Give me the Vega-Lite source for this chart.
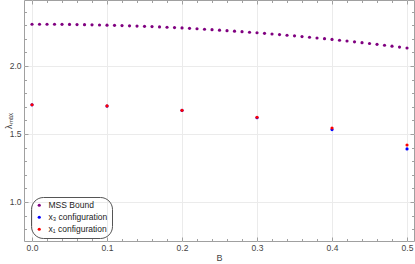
{
 "$schema": "https://vega.github.io/schema/vega-lite/v6.json",
 "width": 390,
 "height": 241,
 "autosize": {"type": "none"},
 "padding": {"left": 24, "top": 0, "right": 1, "bottom": 23},
 "config": {
  "view": {"stroke": "#a0a0a0", "strokeWidth": 1},
  "font": "Liberation Sans",
  "axis": {"domain": false, "tickColor": "#a0a0a0", "labelColor": "#444", "labelFontSize": 8.5, "titleFontSize": 9, "titleFontWeight": "normal", "titleColor": "#444", "gridColor": "#ebebeb"}
 },
 "data": {"values": [
  {"B": 0.00, "v": 2.3070, "s": "MSS Bound"},
  {"B": 0.01, "v": 2.3069, "s": "MSS Bound"},
  {"B": 0.02, "v": 2.3067, "s": "MSS Bound"},
  {"B": 0.03, "v": 2.3064, "s": "MSS Bound"},
  {"B": 0.04, "v": 2.3059, "s": "MSS Bound"},
  {"B": 0.05, "v": 2.3053, "s": "MSS Bound"},
  {"B": 0.06, "v": 2.3045, "s": "MSS Bound"},
  {"B": 0.07, "v": 2.3036, "s": "MSS Bound"},
  {"B": 0.08, "v": 2.3025, "s": "MSS Bound"},
  {"B": 0.09, "v": 2.3013, "s": "MSS Bound"},
  {"B": 0.10, "v": 2.3000, "s": "MSS Bound"},
  {"B": 0.11, "v": 2.2986, "s": "MSS Bound"},
  {"B": 0.12, "v": 2.2970, "s": "MSS Bound"},
  {"B": 0.13, "v": 2.2953, "s": "MSS Bound"},
  {"B": 0.14, "v": 2.2935, "s": "MSS Bound"},
  {"B": 0.15, "v": 2.2915, "s": "MSS Bound"},
  {"B": 0.16, "v": 2.2894, "s": "MSS Bound"},
  {"B": 0.17, "v": 2.2872, "s": "MSS Bound"},
  {"B": 0.18, "v": 2.2848, "s": "MSS Bound"},
  {"B": 0.19, "v": 2.2823, "s": "MSS Bound"},
  {"B": 0.20, "v": 2.2800, "s": "MSS Bound"},
  {"B": 0.21, "v": 2.2765, "s": "MSS Bound"},
  {"B": 0.22, "v": 2.2733, "s": "MSS Bound"},
  {"B": 0.23, "v": 2.2700, "s": "MSS Bound"},
  {"B": 0.24, "v": 2.2667, "s": "MSS Bound"},
  {"B": 0.25, "v": 2.2633, "s": "MSS Bound"},
  {"B": 0.26, "v": 2.2597, "s": "MSS Bound"},
  {"B": 0.27, "v": 2.2560, "s": "MSS Bound"},
  {"B": 0.28, "v": 2.2521, "s": "MSS Bound"},
  {"B": 0.29, "v": 2.2481, "s": "MSS Bound"},
  {"B": 0.30, "v": 2.2440, "s": "MSS Bound"},
  {"B": 0.31, "v": 2.2397, "s": "MSS Bound"},
  {"B": 0.32, "v": 2.2353, "s": "MSS Bound"},
  {"B": 0.33, "v": 2.2308, "s": "MSS Bound"},
  {"B": 0.34, "v": 2.2261, "s": "MSS Bound"},
  {"B": 0.35, "v": 2.2213, "s": "MSS Bound"},
  {"B": 0.36, "v": 2.2163, "s": "MSS Bound"},
  {"B": 0.37, "v": 2.2112, "s": "MSS Bound"},
  {"B": 0.38, "v": 2.2059, "s": "MSS Bound"},
  {"B": 0.39, "v": 2.2005, "s": "MSS Bound"},
  {"B": 0.40, "v": 2.1950, "s": "MSS Bound"},
  {"B": 0.41, "v": 2.1893, "s": "MSS Bound"},
  {"B": 0.42, "v": 2.1835, "s": "MSS Bound"},
  {"B": 0.43, "v": 2.1776, "s": "MSS Bound"},
  {"B": 0.44, "v": 2.1715, "s": "MSS Bound"},
  {"B": 0.45, "v": 2.1653, "s": "MSS Bound"},
  {"B": 0.46, "v": 2.1589, "s": "MSS Bound"},
  {"B": 0.47, "v": 2.1524, "s": "MSS Bound"},
  {"B": 0.48, "v": 2.1457, "s": "MSS Bound"},
  {"B": 0.49, "v": 2.1389, "s": "MSS Bound"},
  {"B": 0.50, "v": 2.1320, "s": "MSS Bound"},
  {"B": 0.0, "v": 1.714, "s": "x₃ configuration"},
  {"B": 0.1, "v": 1.705, "s": "x₃ configuration"},
  {"B": 0.2, "v": 1.673, "s": "x₃ configuration"},
  {"B": 0.3, "v": 1.620, "s": "x₃ configuration"},
  {"B": 0.4, "v": 1.532, "s": "x₃ configuration"},
  {"B": 0.5, "v": 1.390, "s": "x₃ configuration"},
  {"B": 0.0, "v": 1.715, "s": "x₁ configuration"},
  {"B": 0.1, "v": 1.706, "s": "x₁ configuration"},
  {"B": 0.2, "v": 1.674, "s": "x₁ configuration"},
  {"B": 0.3, "v": 1.623, "s": "x₁ configuration"},
  {"B": 0.4, "v": 1.544, "s": "x₁ configuration"},
  {"B": 0.5, "v": 1.419, "s": "x₁ configuration"}
 ]},
 "layer": [
  {
   "mark": {"type": "point", "filled": true, "size": 10, "opacity": 1},
   "encoding": {
    "x": {"field": "B", "type": "quantitative", "scale": {"domain": [-0.0107, 0.5093], "nice": false, "zero": false},
     "axis": {"orient": "bottom", "values": [0, 0.1, 0.2, 0.3, 0.4, 0.5], "format": ".1f", "grid": true, "tickSize": -4, "labelPadding": 6, "title": "B", "titlePadding": 2}},
    "y": {"field": "v", "type": "quantitative", "scale": {"domain": [0.713, 2.485], "nice": false, "zero": false},
     "axis": {"orient": "left", "values": [1.0, 1.5, 2.0], "format": ".1f", "grid": true, "tickSize": -4, "labelPadding": 7, "title": "λₘₐₓ", "titlePadding": -4}},
    "color": {"field": "s", "type": "nominal",
     "scale": {"domain": ["MSS Bound", "x₃ configuration", "x₁ configuration"], "range": ["#800080", "#0000ff", "#ff0000"]},
     "legend": {"orient": "none", "legendX": 7, "legendY": 197, "title": null, "strokeColor": "#555", "cornerRadius": 12, "padding": 4, "symbolType": "circle", "symbolSize": 10, "symbolStrokeWidth": 0, "labelFontSize": 8.5, "labelColor": "#222", "rowPadding": 3, "labelOffset": 5}}
   }
  },
  {
   "mark": {"type": "point", "opacity": 0},
   "encoding": {
    "x": {"field": "B", "type": "quantitative", "axis": {"orient": "bottom", "values": [0.02, 0.04, 0.06, 0.08, 0.12, 0.14, 0.16, 0.18, 0.22, 0.24, 0.26, 0.28, 0.32, 0.34, 0.36, 0.38, 0.42, 0.44, 0.46, 0.48], "labels": false, "grid": false, "tickSize": -2.5, "title": null}},
    "y": {"field": "v", "type": "quantitative", "axis": {"orient": "left", "values": [0.8, 0.9, 1.1, 1.2, 1.3, 1.4, 1.6, 1.7, 1.8, 1.9, 2.1, 2.2, 2.3, 2.4], "labels": false, "grid": false, "tickSize": -2.5, "title": null}}
   }
  },
  {
   "mark": {"type": "point", "opacity": 0},
   "encoding": {
    "x": {"field": "B", "type": "quantitative", "axis": {"orient": "top", "values": [0, 0.1, 0.2, 0.3, 0.4, 0.5], "labels": false, "grid": false, "tickSize": -4, "title": null}},
    "y": {"field": "v", "type": "quantitative", "axis": {"orient": "right", "values": [1.0, 1.5, 2.0], "labels": false, "grid": false, "tickSize": -4, "title": null}}
   }
  },
  {
   "mark": {"type": "point", "opacity": 0},
   "encoding": {
    "x": {"field": "B", "type": "quantitative", "axis": {"orient": "top", "values": [0.02, 0.04, 0.06, 0.08, 0.12, 0.14, 0.16, 0.18, 0.22, 0.24, 0.26, 0.28, 0.32, 0.34, 0.36, 0.38, 0.42, 0.44, 0.46, 0.48], "labels": false, "grid": false, "tickSize": -2.5, "title": null}},
    "y": {"field": "v", "type": "quantitative", "axis": {"orient": "right", "values": [0.8, 0.9, 1.1, 1.2, 1.3, 1.4, 1.6, 1.7, 1.8, 1.9, 2.1, 2.2, 2.3, 2.4], "labels": false, "grid": false, "tickSize": -2.5, "title": null}}
   }
  }
 ],
 "resolve": {"axis": {"x": "independent", "y": "independent"}}
}
